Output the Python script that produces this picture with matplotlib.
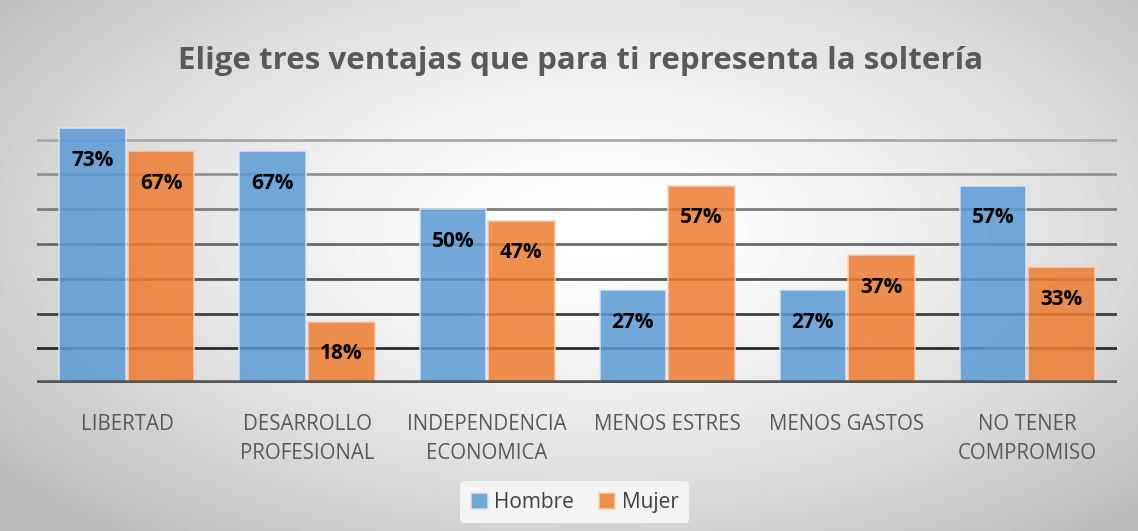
import numpy as np
import matplotlib
matplotlib.use('Agg')
import matplotlib.pyplot as plt
from matplotlib.colors import to_rgb

plt.rcParams['font.family'] = ['Open Sans', 'DejaVu Sans']

categorias = ['LIBERTAD', 'DESARROLLO\nPROFESIONAL', 'INDEPENDENCIA\nECONOMICA',
              'MENOS ESTRES', 'MENOS GASTOS', 'NO TENER\nCOMPROMISO']
hombre = [0.733, 0.667, 0.50, 0.267, 0.267, 0.567]
mujer = [0.667, 0.176, 0.467, 0.567, 0.367, 0.333]
etiquetas_hombre = ['73%', '67%', '50%', '27%', '27%', '57%']
etiquetas_mujer = ['67%', '18%', '47%', '57%', '37%', '33%']
titulo = 'Elige tres ventajas que para ti representa la soltería'

azul = '#5B9BD5'
naranja = '#ED7D31'

fig = plt.figure(figsize=(11.38, 5.31), dpi=100)

# fondo con degradado radial
bg = fig.add_axes([0, 0, 1, 1])
yy, xx = np.mgrid[0:531, 0:1138]
r = np.sqrt(((xx - 600) / 640.0) ** 2 + ((yy - 230) / 330.0) ** 2)
r = np.clip(r, 0, 1.2)
v = 1.0 - 0.2 * r ** 1.6
bg.imshow(v, cmap='gray', vmin=0, vmax=1, aspect='auto', extent=[0, 1, 0, 1])
bg.axis('off')

ax = fig.add_axes([0.0325, 0.2787, 0.9491, 0.5236])
ax.patch.set_alpha(0)

x = np.arange(len(categorias))
w = 0.37

# lineas de cuadricula, mas oscuras hacia abajo
for g in np.arange(0.1, 0.75, 0.1):
    t = (g - 0.1) / 0.6
    c = np.array(to_rgb('#2b2b2b')) * (1 - t) + np.array(to_rgb('#a8a8a8')) * t
    ax.axhline(g, color=c, lw=2, zorder=1)
ax.axhline(0, color='#555555', lw=4, zorder=4)

b1 = ax.bar(x - w / 2 - 0.005, hombre, w, color=azul, alpha=0.85,
            edgecolor='#dce9f5', lw=1.2, zorder=2, label='Hombre')
b2 = ax.bar(x + w / 2 + 0.005, mujer, w, color=naranja, alpha=0.85,
            edgecolor='#f8d3bb', lw=1.2, zorder=2, label='Mujer')

for bars, labs in [(b1, etiquetas_hombre), (b2, etiquetas_mujer)]:
    for b, lab in zip(bars, labs):
        ax.annotate(lab, (b.get_x() + b.get_width() / 2, b.get_height()),
                    xytext=(0, -32), textcoords='offset pixels',
                    ha='center', va='center', fontsize=15, fontweight='bold',
                    color='black', zorder=5)

ax.set_xlim(-0.5, len(categorias) - 0.5)
ax.set_ylim(0, 0.8)
ax.set_yticks([])
ax.set_xticks(x)
ax.set_xticklabels(categorias, fontsize=14.8, color='#595959', linespacing=1.55)
ax.tick_params(axis='x', length=0, pad=22)
for s in ax.spines.values():
    s.set_visible(False)

fig.text(0.51, 0.885, titulo, ha='center', va='center', fontsize=22.5,
         fontweight='bold', color='#595959')

leg = fig.legend(handles=[b1, b2], loc='center', bbox_to_anchor=(0.505, 0.054),
                 ncol=2, frameon=True, fontsize=15, handlelength=0.8,
                 handleheight=0.8, handletextpad=0.3, columnspacing=1.2,
                 borderpad=0.5)
leg.get_frame().set_facecolor('#f4f4f4')
leg.get_frame().set_edgecolor('none')
leg.get_frame().set_alpha(1)
for t in leg.get_texts():
    t.set_color('#404040')

fig.savefig('out.png', dpi=100)
